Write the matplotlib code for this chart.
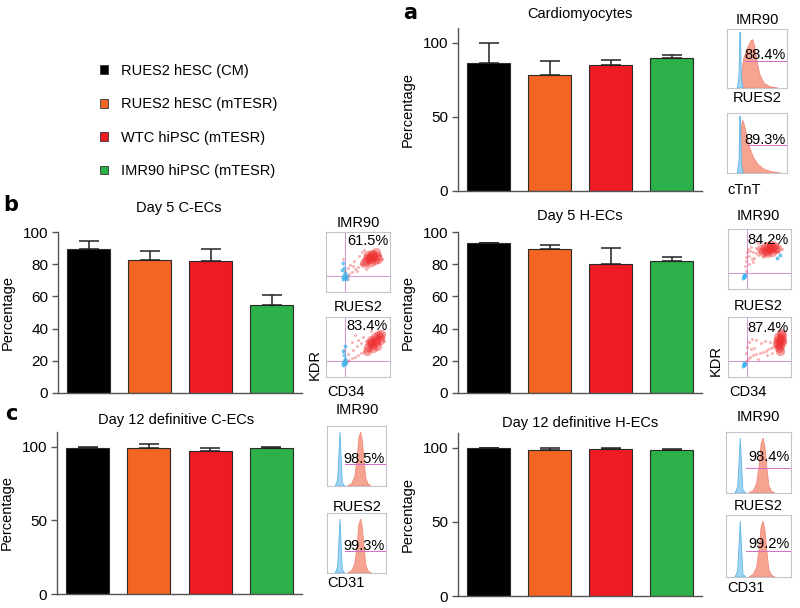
import matplotlib
matplotlib.use('Agg')
import matplotlib.pyplot as plt
from matplotlib.patches import Patch

plt.rcParams['font.family'] = ['Liberation Sans', 'DejaVu Sans']

W, H = 800, 608

# ---------------- data ----------------
cell_lines = ['RUES2 hESC (CM)', 'RUES2 hESC (mTESR)', 'WTC hiPSC (mTESR)', 'IMR90 hiPSC (mTESR)']
bar_colors = ['#000000', '#f26522', '#ed1c24', '#2bb04a']

cm_mean = [86.3, 78.4, 84.9, 89.9]
cm_err = [13.7, 9.4, 3.6, 1.8]
cec5_mean = [89.7, 82.3, 81.9, 54.5]
cec5_err = [5.0, 5.7, 7.4, 6.5]
hec5_mean = [93.0, 89.5, 80.0, 81.7]
hec5_err = [0.4, 2.3, 10.2, 2.9]
cec12_mean = [99.3, 99.3, 97.1, 98.8]
cec12_err = [0.6, 2.5, 1.9, 1.2]
hec12_mean = [99.8, 98.8, 99.2, 98.2]
hec12_err = [0.3, 1.3, 1.0, 1.0]

panel_titles = ['Cardiomyocytes', 'Day 5 C-ECs', 'Day 5 H-ECs',
                'Day 12 definitive C-ECs', 'Day 12 definitive H-ECs']
inset_lines = ['IMR90', 'RUES2']
cm_pct = ['88.4%', '89.3%']
cec5_pct = ['61.5%', '83.4%']
hec5_pct = ['84.2%', '87.4%']
cec12_pct = ['98.5%', '99.3%']
hec12_pct = ['98.4%', '99.2%']

# histogram shapes (fraction of inset box)
ctnt_blue_x = [0.17, 0.20, 0.215, 0.225, 0.24, 0.27]
ctnt_blue_y = [0.0, 0.2, 0.95, 0.9, 0.15, 0.0]
ctnt_imr_red_x = [0.20, 0.24, 0.28, 0.32, 0.36, 0.40, 0.43, 0.46, 0.50, 0.55, 0.62, 0.72, 0.85]
ctnt_imr_red_y = [0.0, 0.25, 0.5, 0.62, 0.72, 0.8, 0.82, 0.72, 0.45, 0.22, 0.08, 0.02, 0.0]
ctnt_rues_red_x = [0.20, 0.23, 0.26, 0.29, 0.33, 0.38, 0.44, 0.52, 0.62, 0.75, 0.90]
ctnt_rues_red_y = [0.0, 0.7, 0.88, 0.8, 0.62, 0.42, 0.26, 0.14, 0.06, 0.02, 0.0]
cd31_blue_x = [0.14, 0.18, 0.20, 0.22, 0.24, 0.26, 0.30]
cd31_blue_y = [0.0, 0.1, 0.5, 0.9, 0.45, 0.05, 0.0]
cd31_red_x = [0.35, 0.42, 0.47, 0.51, 0.54, 0.57, 0.60, 0.63, 0.66, 0.70, 0.75]
cd31_red_y = [0.0, 0.04, 0.15, 0.45, 0.8, 0.9, 0.75, 0.4, 0.12, 0.03, 0.0]

# flow scatter: dense population cores (fraction of inset box)
cec_imr_core_x = [0.62, 0.68, 0.74, 0.80, 0.66, 0.72, 0.78, 0.60, 0.70, 0.76, 0.64, 0.82, 0.73, 0.69]
cec_imr_core_y = [0.52, 0.55, 0.58, 0.60, 0.62, 0.64, 0.66, 0.48, 0.50, 0.53, 0.57, 0.55, 0.61, 0.59]
cec_rues_core_x = [0.66, 0.72, 0.78, 0.84, 0.70, 0.76, 0.82, 0.86, 0.74, 0.80, 0.64, 0.68, 0.78, 0.84, 0.72]
cec_rues_core_y = [0.50, 0.54, 0.58, 0.62, 0.62, 0.66, 0.70, 0.72, 0.48, 0.52, 0.44, 0.56, 0.62, 0.66, 0.58]
hec_imr_core_x = [0.55, 0.60, 0.65, 0.70, 0.75, 0.58, 0.63, 0.68, 0.73, 0.78, 0.62, 0.70, 0.66, 0.52]
hec_imr_core_y = [0.62, 0.64, 0.66, 0.68, 0.66, 0.70, 0.72, 0.74, 0.72, 0.68, 0.60, 0.62, 0.69, 0.66]
hec_rues_core_x = [0.80, 0.82, 0.84, 0.86, 0.81, 0.83, 0.85, 0.79, 0.84, 0.82, 0.78, 0.86, 0.80]
hec_rues_core_y = [0.55, 0.60, 0.65, 0.70, 0.48, 0.52, 0.58, 0.62, 0.74, 0.44, 0.56, 0.62, 0.66]

# flow scatter: sparse events
cec_imr_red_x = [0.58, 0.85, 0.55, 0.50, 0.45, 0.40, 0.36, 0.33, 0.31, 0.30, 0.29, 0.34,
                 0.38, 0.44, 0.52, 0.60, 0.66, 0.88, 0.48, 0.42, 0.56, 0.35, 0.27, 0.62]
cec_imr_red_y = [0.46, 0.62, 0.47, 0.42, 0.38, 0.34, 0.30, 0.27, 0.25, 0.30, 0.35, 0.40,
                 0.45, 0.52, 0.60, 0.70, 0.42, 0.55, 0.35, 0.44, 0.66, 0.22, 0.55, 0.38]
cec_imr_blue_x = [0.26, 0.27, 0.28, 0.29, 0.30, 0.28, 0.27, 0.31, 0.33, 0.25]
cec_imr_blue_y = [0.22, 0.25, 0.28, 0.32, 0.24, 0.40, 0.48, 0.22, 0.27, 0.36]
cec_rues_red_x = [0.65, 0.60, 0.55, 0.50, 0.45, 0.40, 0.36, 0.33, 0.31, 0.30, 0.35, 0.42, 0.48,
                  0.55, 0.62, 0.40, 0.50, 0.58, 0.28, 0.45, 0.90, 0.70]
cec_rues_red_y = [0.44, 0.42, 0.40, 0.37, 0.34, 0.31, 0.28, 0.26, 0.25, 0.30, 0.38, 0.45, 0.52,
                  0.56, 0.60, 0.58, 0.62, 0.66, 0.45, 0.70, 0.60, 0.76]
cec_rues_blue_x = [0.26, 0.27, 0.28, 0.29, 0.30, 0.28, 0.31, 0.26, 0.29]
cec_rues_blue_y = [0.20, 0.23, 0.26, 0.30, 0.22, 0.36, 0.25, 0.44, 0.52]
hec_imr_red_x = [0.45, 0.40, 0.35, 0.31, 0.28, 0.27, 0.28, 0.29, 0.30, 0.34, 0.38, 0.42, 0.48,
                 0.50, 0.44, 0.36, 0.80, 0.33, 0.40, 0.56, 0.85, 0.47]
hec_imr_red_y = [0.60, 0.62, 0.64, 0.66, 0.30, 0.38, 0.46, 0.54, 0.62, 0.55, 0.50, 0.52, 0.56,
                 0.66, 0.68, 0.70, 0.62, 0.42, 0.45, 0.54, 0.66, 0.76]
hec_imr_blue_x = [0.24, 0.25, 0.26, 0.25, 0.27, 0.78, 0.82]
hec_imr_blue_y = [0.19, 0.21, 0.20, 0.23, 0.24, 0.52, 0.56]
hec_rues_red_x = [0.76, 0.72, 0.68, 0.64, 0.60, 0.55, 0.50, 0.45, 0.40, 0.35, 0.31, 0.29, 0.28,
                  0.30, 0.34, 0.38, 0.44, 0.52, 0.58, 0.66, 0.42, 0.48, 0.62, 0.70, 0.36]
hec_rues_red_y = [0.52, 0.50, 0.48, 0.46, 0.44, 0.42, 0.40, 0.38, 0.36, 0.34, 0.30, 0.26, 0.40,
                  0.50, 0.58, 0.64, 0.62, 0.56, 0.60, 0.58, 0.48, 0.30, 0.36, 0.40, 0.46]
hec_rues_blue_x = [0.24, 0.25, 0.26, 0.25, 0.27]
hec_rues_blue_y = [0.19, 0.21, 0.20, 0.23, 0.22]

# ---------------- drawing ----------------
fig = plt.figure(figsize=(8, 6.08), dpi=100)


def rect(l, t, r, b):
    return [l / W, 1 - b / H, (r - l) / W, (b - t) / H]


def ftext(x, y, s, **kw):
    kw.setdefault('va', 'center')
    kw.setdefault('ha', 'center')
    kw.setdefault('fontsize', 10.5)
    fig.text(x / W, 1 - y / H, s, **kw)


AX_C = '#555555'


def bar_panel(r, mean, err, ymax, yticks):
    ax = fig.add_axes(rect(*r))
    x = list(range(len(mean)))
    ax.bar(x, mean, width=0.7, color=bar_colors, edgecolor='#2a2a2a', linewidth=0.8, zorder=2)
    ax.errorbar(x, mean, yerr=[[0] * len(err), err], fmt='none', ecolor='#222222',
                elinewidth=1.1, capsize=7.5, capthick=1.1, zorder=3)
    ax.set_xlim(-0.5, 3.5)
    ax.set_ylim(0, ymax)
    ax.set_yticks(yticks)
    ax.set_xticks([])
    for s in ['top', 'right']:
        ax.spines[s].set_visible(False)
    for s in ['left', 'bottom']:
        ax.spines[s].set_color(AX_C)
        ax.spines[s].set_linewidth(1.0)
    ax.tick_params(axis='y', direction='out', length=4, width=1, color=AX_C,
                   labelsize=11, pad=3)
    ax.set_ylabel('Percentage', fontsize=10.5, labelpad=6)
    return ax


def clean_inset(ax):
    ax.set_xlim(0, 1)
    ax.set_ylim(0, 1)
    ax.set_xticks([])
    ax.set_yticks([])
    for s in ax.spines.values():
        s.set_color('#c4c4cc')
        s.set_linewidth(0.8)


def hist_inset(r, bx, by, rx, ry, pct, ty, gy, gx0):
    ax = fig.add_axes(rect(*r))
    clean_inset(ax)
    ax.fill(rx, ry, color='#f6a392', lw=0.6, ec='#f08a78', zorder=2)
    ax.fill(bx, by, color='#9fd4f0', lw=0.6, ec='#5fb5e6', zorder=3)
    ax.plot([gx0, 1.0], [gy, gy], color='#d46cc8', lw=0.7, zorder=4)
    ax.text(0.98, ty, pct, transform=ax.transAxes, ha='right', va='center',
            fontsize=10.5, zorder=5, clip_on=False)
    return ax


def scat_inset(r, cx, cy, rx, ry, bx, by, pct, ty):
    ax = fig.add_axes(rect(*r))
    clean_inset(ax)
    ax.axvline(0.30, color='#d890d8', lw=0.7, zorder=1)
    ax.axhline(0.27, color='#d890d8', lw=0.7, zorder=1)
    ax.scatter(rx, ry, s=5, color='#ef4a4a', alpha=0.4, lw=0, zorder=2)
    ax.scatter(cx, cy, s=45, color='#ee3030', alpha=0.45, lw=0, zorder=2)
    ax.scatter(bx, by, s=8, color='#3cb4ec', alpha=0.75, lw=0, zorder=3)
    ax.text(0.97, ty, pct, transform=ax.transAxes, ha='right', va='center',
            fontsize=10.5, zorder=5)
    return ax


# legend
handles = [Patch(facecolor=c, edgecolor='#333333', linewidth=0.6) for c in bar_colors]
fig.legend(handles, cell_lines, loc='upper left', bbox_to_anchor=(100 / W, 1 - 64 / H),
           frameon=False, fontsize=10.5, handlelength=0.55, handleheight=0.55,
           handletextpad=0.9, labelspacing=1.33, borderaxespad=0, borderpad=0)

# panel letters
ftext(410, 13, 'a', fontsize=15, fontweight='bold', family='DejaVu Sans')
ftext(11, 205, 'b', fontsize=15, fontweight='bold', family='DejaVu Sans')
ftext(11, 414, 'c', fontsize=15, fontweight='bold', family='DejaVu Sans')

# panel a
bar_panel((458, 28, 702, 191), cm_mean, cm_err, 110, [0, 50, 100])
ftext(580, 14, panel_titles[0])
hist_inset((727, 29, 787, 88), ctnt_blue_x, ctnt_blue_y, ctnt_imr_red_x, ctnt_imr_red_y,
           cm_pct[0], 0.56, 0.46, 0.30)
hist_inset((727, 113, 787, 173), ctnt_blue_x, ctnt_blue_y, ctnt_rues_red_x, ctnt_rues_red_y,
           cm_pct[1], 0.55, 0.47, 0.35)
ftext(757, 20, inset_lines[0])
ftext(757, 98, inset_lines[1])
ftext(727, 190, 'cTnT', ha='left')

# panel b left
bar_panel((58, 232, 302, 393), cec5_mean, cec5_err, 100, [0, 20, 40, 60, 80, 100])
ftext(179, 208, panel_titles[1])
scat_inset((326, 232, 390, 292), cec_imr_core_x, cec_imr_core_y, cec_imr_red_x, cec_imr_red_y,
           cec_imr_blue_x, cec_imr_blue_y, cec5_pct[0], 0.85)
scat_inset((326, 317, 390, 377), cec_rues_core_x, cec_rues_core_y, cec_rues_red_x, cec_rues_red_y,
           cec_rues_blue_x, cec_rues_blue_y, cec5_pct[1], 0.85)
ftext(358, 223, inset_lines[0])
ftext(358, 307, inset_lines[1])
ftext(315, 364, 'KDR', rotation=90)
ftext(327, 392, 'CD34', ha='left')

# panel b right
bar_panel((458, 232, 702, 393), hec5_mean, hec5_err, 100, [0, 20, 40, 60, 80, 100])
ftext(580, 216, panel_titles[2])
scat_inset((728, 229, 791, 289), hec_imr_core_x, hec_imr_core_y, hec_imr_red_x, hec_imr_red_y,
           hec_imr_blue_x, hec_imr_blue_y, hec5_pct[0], 0.82)
scat_inset((728, 317, 791, 377), hec_rues_core_x, hec_rues_core_y, hec_rues_red_x, hec_rues_red_y,
           hec_rues_blue_x, hec_rues_blue_y, hec5_pct[1], 0.82)
ftext(758, 216, inset_lines[0])
ftext(758, 306, inset_lines[1])
ftext(716, 360, 'KDR', rotation=90)
ftext(729, 392, 'CD34', ha='left')

# panel c left
bar_panel((57, 432, 302, 594), cec12_mean, cec12_err, 110, [0, 50, 100])
ftext(176, 420, panel_titles[3])
hist_inset((327, 426, 386, 486), cd31_blue_x, cd31_blue_y, cd31_red_x, cd31_red_y,
           cec12_pct[0], 0.45, 0.37, 0.30)
hist_inset((327, 513, 386, 573), cd31_blue_x, cd31_blue_y, cd31_red_x, cd31_red_y,
           cec12_pct[1], 0.455, 0.37, 0.30)
ftext(357, 410, inset_lines[0])
ftext(357, 507, inset_lines[1])
ftext(327, 583, 'CD31', ha='left')

# panel c right
bar_panel((458, 433, 702, 596), hec12_mean, hec12_err, 110, [0, 50, 100])
ftext(580, 423, panel_titles[4])
hist_inset((726, 432, 791, 493), cd31_blue_x, cd31_blue_y, cd31_red_x, cd31_red_y,
           hec12_pct[0], 0.585, 0.415, 0.30)
hist_inset((726, 515, 791, 577), cd31_blue_x, cd31_blue_y, cd31_red_x, cd31_red_y,
           hec12_pct[1], 0.53, 0.42, 0.30)
ftext(758, 417, inset_lines[0])
ftext(758, 506, inset_lines[1])
ftext(727, 588, 'CD31', ha='left')

fig.savefig('out.png', dpi=100)
